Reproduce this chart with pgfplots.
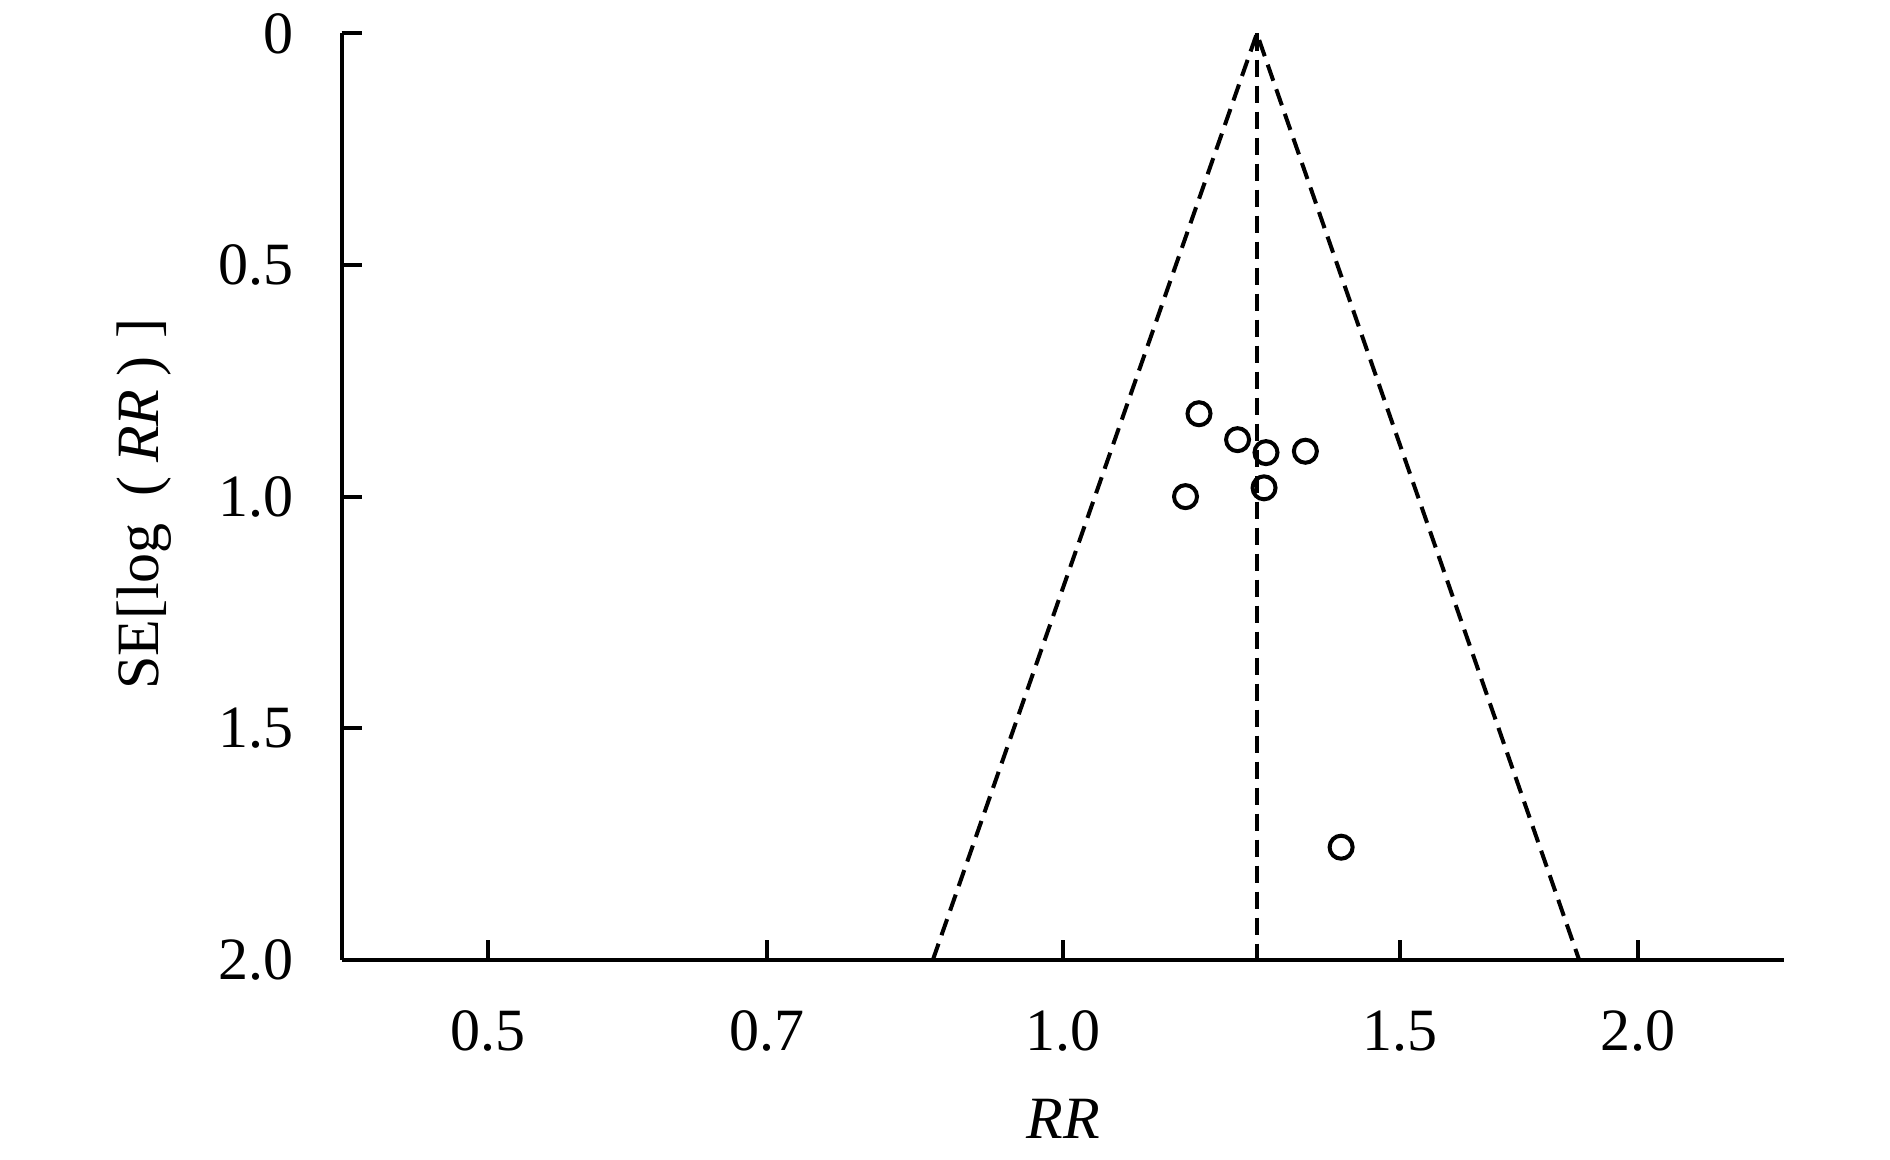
\documentclass[border=0pt]{standalone}
\usepackage{pgfplots}
\pgfplotsset{compat=1.18}
\usepackage{fontspec}
\setmainfont{Liberation Serif}
\begin{document}
\fontsize{12}{14}\selectfont
\begin{tikzpicture}
\begin{axis}[
  scale only axis, width=288.5pt, height=185.2pt,
  xmode=log, xmin=0.4194, xmax=2.3845,
  ymin=0, ymax=2, y dir=reverse,
  axis lines*=left,
  axis line style={line width=0.8pt, black},
  clip=false,
  tick align=inside,
  major tick length=4pt,
  tick style={line width=0.8pt, black},
  xtick={0.5,0.7,1,1.5,2},
  xticklabels={0.5,0.7,1.0,1.5,2.0},
  minor xtick={},
  ytick={0,0.5,1,1.5,2},
  yticklabels={0,0.5,1.0,1.5,2.0},
  /pgf/number format/assume math mode=true,
  xticklabel style={anchor=center, yshift=-14.3pt},
  yticklabel style={anchor=east, xshift=-5.5pt},
  xlabel={\textit{RR}},
  ylabel={SE[log\hspace{0.45em}(\hspace{0.22em}\textit{RR}\hspace{0.22em})\hspace{0.3em}]},
  xlabel style={at={(axis description cs:0.5,-0.172)}, anchor=center},
  ylabel style={at={(axis description cs:-0.137,0.492)}, anchor=center},
]
\addplot[black, line width=0.8pt, dash pattern=on 3.4pt off 1.8pt] coordinates {(0.855,2) (1.263,0) (1.862,2)};
\addplot[black, line width=0.8pt, dash pattern=on 3.4pt off 1.8pt] coordinates {(1.263,0) (1.263,2)};
\addplot[only marks, mark=o, mark size=2.3pt, mark options={line width=0.8pt, black}] coordinates {
(1.178,0.821)
(1.234,0.877)
(1.277,0.905)
(1.339,0.902)
(1.274,0.981)
(1.159,1.000)
(1.398,1.757)
};
\coordinate (ll) at (axis cs:0.4194,2);
\coordinate (ur) at (axis cs:2.3845,0);
\end{axis}
\pgfresetboundingbox
\path[use as bounding box] ([shift={(-68.3pt,-39.9pt)}]ll) rectangle ([shift={(21.1pt,6.7pt)}]ur);
\end{tikzpicture}
\end{document}
